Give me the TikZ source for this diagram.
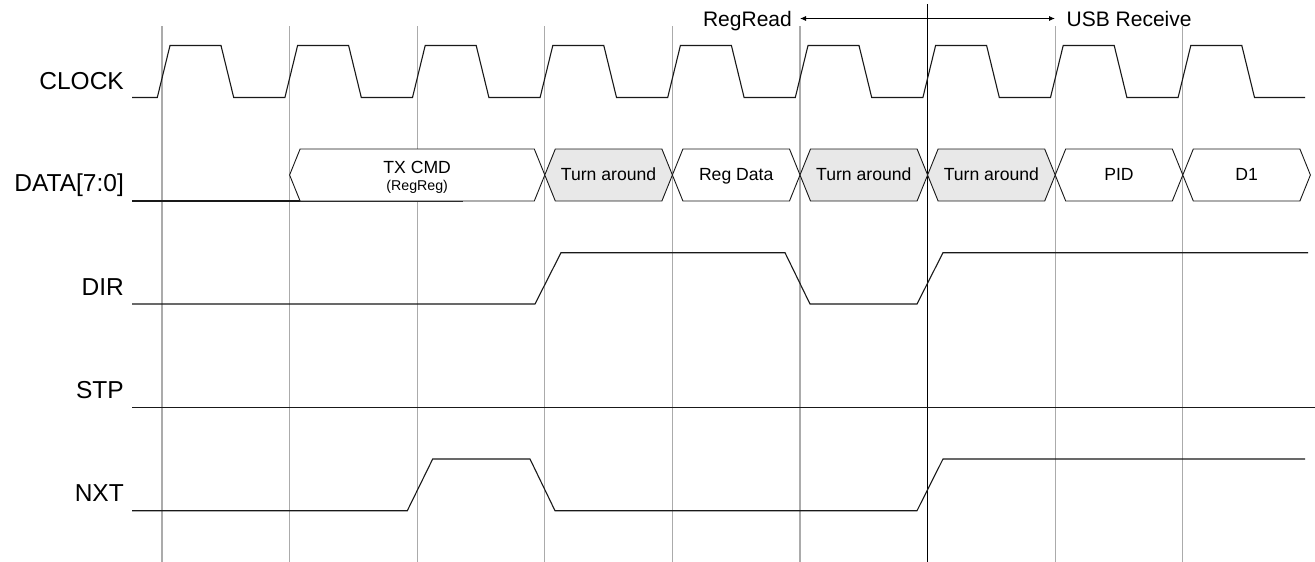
\documentclass[tikz,border=0pt]{standalone}
\usepackage{fontspec}
\setmainfont{Liberation Sans}
\usetikzlibrary{arrows.meta}
\begin{document}
\begin{tikzpicture}[x=1pt,y=-1pt,
  sig/.style={draw=black!90, line width=1.1pt, line join=miter},
  gridline/.style={draw=black!33, line width=1.1pt},
  markerline/.style={draw=black, line width=1pt},
  hexbox/.style={draw=black!90, line width=0.9pt},
  tafill/.style={fill=black!9},
  siglabel/.style={anchor=base east, inner sep=0pt, font=\fontsize{24.5}{28}\selectfont},
  toplabel/.style={inner sep=0pt, font=\fontsize{21}{24}\selectfont},
  celltext/.style={anchor=base, inner sep=0pt, font=\fontsize{17.6}{20}\selectfont},
  smalltext/.style={anchor=base, inner sep=0pt, font=\fontsize{14.2}{16}\selectfont},
  spanarrow/.style={draw=black, line width=0.9pt, {Latex[length=6pt,width=5pt]}-{Latex[length=6pt,width=5pt]}}
]
\useasboundingbox (0,0) rectangle (1315,562);

% grid lines
\foreach \i in {0,1,2,3,4,5,7,8} {
  \draw[gridline] ({162+127.6*\i},26) -- ({162+127.6*\i},562);
}
\draw[markerline] (927.6,4) -- (927.6,562);

% labels
\node[siglabel] (clk) at (124,89) {CLOCK};
\node[siglabel] (data) at (124,191) {DATA[7:0]};
\node[siglabel] (dir) at (124,295.5) {DIR};
\node[siglabel] (stp) at (124,398.5) {STP};
\node[siglabel] (nxt) at (124,501) {NXT};

% top annotation
\node[toplabel, anchor=base east] (rr) at (792,26.5) {RegRead};
\node[toplabel, anchor=base west] (usb) at (1066.5,26.5) {USB Receive};
\coordinate (al) at (800,18.5);
\coordinate (ar) at (1055,18.5);
\draw[spanarrow] (al) -- (ar);

% clock
\draw[sig] (132,97.5)
  \foreach \i in {0,...,8} {
    -- ({162+127.6*\i-4.7},97.5) -- ({162+127.6*\i+8},45.5)
    -- ({162+127.6*\i+59},45.5) -- ({162+127.6*\i+71.7},97.5)
  } -- (1305,97.5);

% data bus
\draw[sig] (132,201) -- (463,201);
\foreach \a/\b/\f in {289.6/544.8/white, 544.8/672.4/black!9, 672.4/800/white,
                      800/927.6/black!9, 927.6/1055.2/black!9, 1055.2/1182.8/white,
                      1182.8/1310.4/white} {
  \filldraw[hexbox, fill=\f] (\a,175) -- (\a+10.5,149) -- (\b-10.5,149) -- (\b,175)
    -- (\b-10.5,201) -- (\a+10.5,201) -- cycle;
}
\node[celltext] (txcmd) at (417.2,173) {TX CMD};
\node[smalltext] (regreg) at (417.2,190) {(RegReg)};
\node[celltext] (ta1) at (608.6,180.6) {Turn around};
\node[celltext] (regdata) at (736.2,180.6) {Reg Data};
\node[celltext] (ta2) at (863.8,180.6) {Turn around};
\node[celltext] (ta3) at (991.4,180.6) {Turn around};
\node[celltext] (pid) at (1119,180.6) {PID};
\node[celltext] (d1) at (1246.6,180.6) {D1};

% DIR
\draw[sig] (132,304) -- (535,304) -- (561,252.7) -- (785,252.7) -- (810,304)
  -- (917,304) -- (943,252.7) -- (1308,252.7);

% STP
\draw[sig] (132,407.5) -- (1315,407.5);

% NXT
\draw[sig] (132,510.7) -- (407.3,510.7) -- (432.7,459) -- (530,459) -- (555,510.7)
  -- (917,510.7) -- (943,459) -- (1305,459);
\end{tikzpicture}
\end{document}
